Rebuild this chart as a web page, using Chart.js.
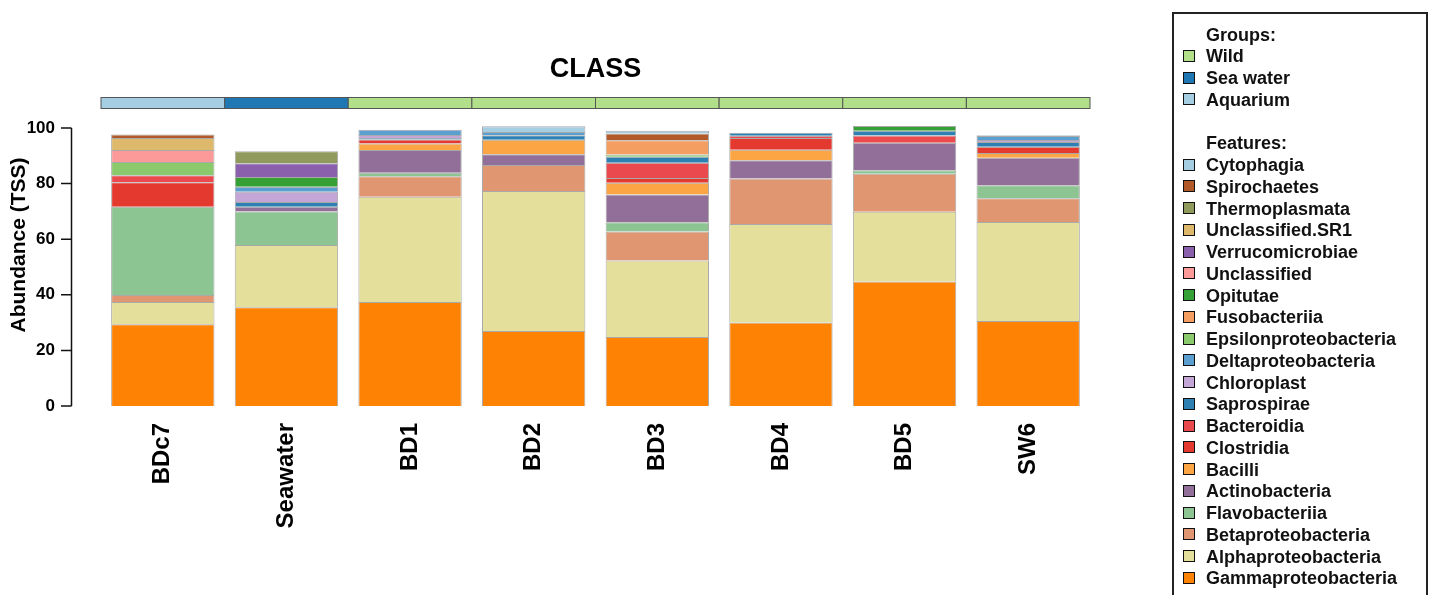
<!DOCTYPE html>
<html>
<head>
<meta charset="utf-8">
<script src="https://cdn.jsdelivr.net/npm/chart.js@4/dist/chart.umd.min.js"></script>
<style>
  html, body { margin: 0; padding: 0; background: #fff; }
  #wrap { position: relative; width: 1437px; height: 595px; overflow: hidden; }
  #c { position: absolute; left: 0; top: 0; }
  #legend { position: absolute; left: 1172px; top: 12px; width: 252px; height: 640px;
            border: 2px solid #222; box-sizing: content-box; }
  .lg-row { position: absolute; left: 0; height: 20px; line-height: 20px; white-space: nowrap;
            font: bold 18px "Liberation Sans", Arial, sans-serif; color: #111; }
  .lg-sw { position: absolute; width: 10px; height: 10px; border: 1.5px solid #111; }
</style>
</head>
<body>
<div id="wrap">
  <canvas id="c" width="1437" height="595"></canvas>
  <div id="legend"></div>
</div>
<script>
// ---- data ----
const categories = ["BDc7", "Seawater", "BD1", "BD2", "BD3", "BD4", "BD5", "SW6"];
const sampleGroups = ["Aquarium", "Sea water", "Wild", "Wild", "Wild", "Wild", "Wild", "Wild"];
const groupNames = ["Wild", "Sea water", "Aquarium"];
const groupColors = ["#b2df8a", "#1f78b4", "#a6cee3"];
const yTicks = [0, 20, 40, 60, 80, 100];

// feature values per sample (stack order bottom -> top)
const gammaproteobacteria   = [29.4, 35.5, 37.4, 27.0, 24.8, 30.0, 44.8, 30.6];
const alphaproteobacteria   = [ 8.0, 22.4, 37.9, 50.3, 27.5, 35.5, 25.1, 35.6];
const betaproteobacteria    = [ 2.5,  0.0,  7.3,  9.4, 10.5, 16.3, 13.6,  8.5];
const flavobacteriia        = [31.8, 12.1,  1.3,  0.0,  3.3,  0.0,  1.3,  4.7];
const actinobacteria        = [ 0.0,  1.7,  8.2,  3.9, 10.0,  6.6,  9.9,  9.9];
const bacilli               = [ 0.0,  0.0,  2.3,  5.2,  4.2,  3.8,  0.0,  1.7];
const clostridia            = [ 8.8,  0.0,  1.5,  0.0,  1.7,  4.2,  0.0,  2.3];
const bacteroidia           = [ 2.5,  0.0,  0.0,  0.0,  5.5,  0.8,  2.6,  0.0];
const saprospirae           = [ 0.0,  1.7,  0.5,  1.6,  2.2,  1.1,  1.7,  1.7];
const chloroplast           = [ 0.0,  3.7,  1.1,  0.0,  0.0,  0.0,  0.0,  0.7];
const deltaproteobacteria   = [ 0.0,  1.8,  1.9,  1.2,  0.0,  0.0,  0.0,  1.4];
const epsilonproteobacteria = [ 4.8,  0.0,  0.0,  0.0,  0.8,  0.0,  0.0,  0.0];
const fusobacteriia         = [ 0.0,  0.0,  0.0,  0.0,  5.1,  0.0,  0.0,  0.0];
const opitutae              = [ 0.0,  3.5,  0.0,  0.0,  0.0,  0.0,  1.7,  0.0];
const unclassified          = [ 4.3,  0.0,  0.0,  0.0,  0.0,  0.0,  0.0,  0.0];
const verrucomicrobiae      = [ 0.0,  4.9,  0.0,  0.0,  0.0,  0.0,  0.0,  0.0];
const unclassifiedSR1       = [ 4.3,  0.0,  0.0,  0.0,  0.0,  0.0,  0.0,  0.0];
const thermoplasmata        = [ 0.0,  4.3,  0.0,  0.0,  0.0,  0.0,  0.0,  0.0];
const spirochaetes          = [ 1.3,  0.0,  0.0,  0.0,  2.4,  0.0,  0.0,  0.0];
const cytophagia            = [ 0.0,  0.0,  0.0,  2.0,  1.0,  0.0,  0.0,  0.3];

// legend order (top -> bottom)
const featureNames = ["Cytophagia", "Spirochaetes", "Thermoplasmata", "Unclassified.SR1",
  "Verrucomicrobiae", "Unclassified", "Opitutae", "Fusobacteriia", "Epsilonproteobacteria",
  "Deltaproteobacteria", "Chloroplast", "Saprospirae", "Bacteroidia", "Clostridia", "Bacilli",
  "Actinobacteria", "Flavobacteriia", "Betaproteobacteria", "Alphaproteobacteria",
  "Gammaproteobacteria"];
const featureColors = ["#a6cee3", "#b15928", "#8f9a5c", "#dfb96b",
  "#8a5fab", "#fb9a99", "#35a035", "#f59e62", "#8bca6c",
  "#5b9fd0", "#c3a5d6", "#2e80b3", "#ea4a4e", "#e4392f", "#fca545",
  "#916f98", "#8cc492", "#e09670", "#e4e09b",
  "#fe8204"];
const featureValues = [cytophagia, spirochaetes, thermoplasmata, unclassifiedSR1,
  verrucomicrobiae, unclassified, opitutae, fusobacteriia, epsilonproteobacteria,
  deltaproteobacteria, chloroplast, saprospirae, bacteroidia, clostridia, bacilli,
  actinobacteria, flavobacteriia, betaproteobacteria, alphaproteobacteria,
  gammaproteobacteria];

// ---- datasets (bottom of stack first) ----
const datasets = [];
for (let i = featureNames.length - 1; i >= 0; i--) {
  datasets.push({
    label: featureNames[i],
    data: featureValues[i],
    backgroundColor: featureColors[i],
    borderColor: "rgba(40,40,40,0.4)",
    borderWidth: 1,
    barPercentage: 0.836,
    categoryPercentage: 1.0,
    clip: false
  });
}

const FONT = '"Liberation Sans", Arial, sans-serif';

const decor = {
  id: "decor",
  afterDraw(chart) {
    const ctx = chart.ctx;
    const x = chart.scales.x, y = chart.scales.y;
    const area = chart.chartArea;
    ctx.save();
    // title
    ctx.fillStyle = "#000";
    ctx.font = "bold 27px " + FONT;
    ctx.textAlign = "center";
    ctx.textBaseline = "alphabetic";
    ctx.fillText("CLASS", (area.left + area.right) / 2, 77);
    // group colour bar
    const w = (area.right - area.left) / categories.length;
    for (let i = 0; i < categories.length; i++) {
      const cx = x.getPixelForValue(i);
      const gi = groupNames.indexOf(sampleGroups[i]);
      ctx.fillStyle = groupColors[gi];
      ctx.fillRect(cx - w / 2, 97.5, w, 11);
      ctx.strokeStyle = "#555";
      ctx.lineWidth = 1;
      ctx.strokeRect(cx - w / 2, 97.5, w, 11);
    }
    // y axis line and ticks
    ctx.strokeStyle = "#111";
    ctx.lineWidth = 1.5;
    ctx.beginPath();
    ctx.moveTo(71.5, y.getPixelForValue(yTicks[0]));
    ctx.lineTo(71.5, y.getPixelForValue(yTicks[yTicks.length - 1]));
    for (const t of yTicks) {
      const py = y.getPixelForValue(t);
      ctx.moveTo(61, py);
      ctx.lineTo(71.5, py);
    }
    ctx.stroke();
    // y title
    ctx.translate(19, 245);
    ctx.rotate(-Math.PI / 2);
    ctx.fillStyle = "#000";
    ctx.font = "bold 21px " + FONT;
    ctx.textAlign = "center";
    ctx.textBaseline = "middle";
    ctx.fillText("Abundance (TSS)", 0, 0);
    ctx.restore();
  }
};

new Chart(document.getElementById("c"), {
  type: "bar",
  data: { labels: categories, datasets: datasets },
  options: {
    responsive: false,
    devicePixelRatio: 1,
    animation: false,
    layout: { padding: { left: 0, right: 347, top: 128, bottom: 0 } },
    plugins: { legend: { display: false }, title: { display: false }, tooltip: { enabled: false } },
    scales: {
      x: {
        stacked: true,
        grid: { display: false, drawTicks: false },
        border: { display: false },
        ticks: {
          autoSkip: false, minRotation: 90, maxRotation: 90, padding: 17,
          color: "#000", font: { family: FONT, weight: "bold", size: 24 }
        },
        afterFit(s) { s.height = 189; }
      },
      y: {
        stacked: true,
        min: 0, max: 100,
        grid: { display: false, drawTicks: false },
        border: { display: false },
        afterBuildTicks(s) { s.ticks = yTicks.map(v => ({ value: v })); },
        ticks: {
          padding: 46, color: "#000",
          font: { family: FONT, weight: "bold", size: 17 }
        },
        afterFit(s) { s.width = 101; }
      }
    }
  },
  plugins: [decor]
});

// ---- legend (HTML) ----
const legend = document.getElementById("legend");
const L = 1172, T = 12, step = 21.75;
function addRow(text, centerY, color) {
  const r = document.createElement("div");
  r.className = "lg-row";
  r.style.left = (1206 - L - 2) + "px";
  r.style.top = (centerY - T - 2 - 10) + "px";
  r.textContent = text;
  legend.appendChild(r);
  if (color) {
    const s = document.createElement("div");
    s.className = "lg-sw";
    s.style.background = color;
    s.style.left = (1183 - L - 2) + "px";
    s.style.top = (centerY - T - 2 - 6.5) + "px";
    legend.appendChild(s);
  }
}
let cy = 34.5;
addRow("Groups:", cy, null);
for (let i = 0; i < groupNames.length; i++) { cy += step; addRow(groupNames[i], cy, groupColors[i]); }
cy += 2 * step;
addRow("Features:", cy, null);
for (let i = 0; i < featureNames.length; i++) { cy += step; addRow(featureNames[i], cy, featureColors[i]); }
</script>
</body>
</html>
